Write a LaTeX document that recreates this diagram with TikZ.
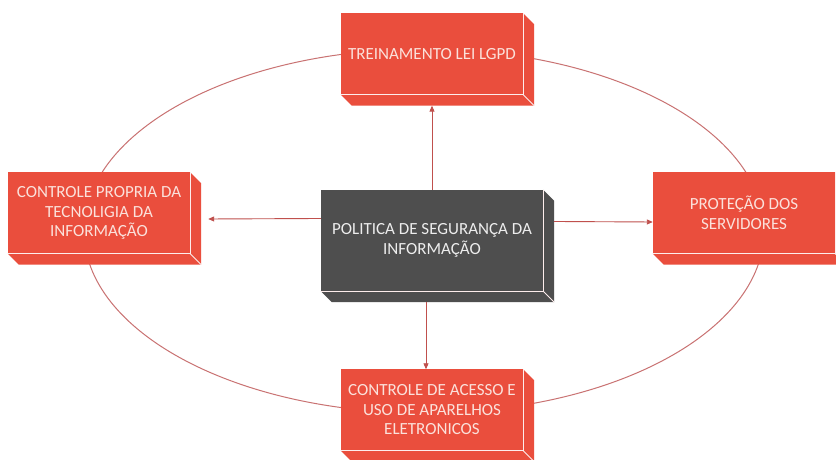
\documentclass[tikz,border=0pt]{standalone}
\usepackage{fontspec}
\setmainfont{Carlito}
\usetikzlibrary{arrows.meta}
\definecolor{boxred}{HTML}{EA4E3D}
\definecolor{boxdark}{HTML}{4E4E4E}
\definecolor{ringcol}{HTML}{C97272}
\definecolor{arrcol}{HTML}{C0504D}
\definecolor{txtred}{HTML}{FBE1DB}
\tikzset{
  redbox/.style={fill=boxred, text=txtred, minimum width=182pt, minimum height=81pt, inner sep=0pt, align=center, font=\fontsize{17}{19.5}\selectfont},
  darkbox/.style={fill=boxdark, text=white!93!black, minimum width=222pt, minimum height=101pt, inner sep=0pt, align=center, font=\fontsize{17}{19.5}\selectfont},
  sep/.style={draw=white!90!boxred, line width=0.8pt},
  arr/.style={draw=arrcol, line width=0.9pt, -{Triangle[length=6pt,width=5pt]}},
  ring/.style={draw=ringcol, line width=1pt}
}
\newcommand{\extrude}[2]{%
  \fill[#2] (#1.north east) -- ++(11,-11) -- ([shift={(11,-11)}]#1.south east) -- ([shift={(11,-11)}]#1.south west) -- (#1.south west) -- (#1.south east) -- cycle;
  \draw[sep] (#1.south west) -- (#1.south east) -- (#1.north east);
  \draw[sep] (#1.south east) -- ++(11,-11);
}
\begin{document}
\begin{tikzpicture}[x=1pt,y=1pt]
\useasboundingbox (0,0) rectangle (836,460);
\clip (0,0) rectangle (836,460);
\fill[white] (0,0) rectangle (836,460);
\draw[ring] (424,229) ellipse [x radius=340, y radius=182];
\node[redbox] (top) at (432,406) {TREINAMENTO LEI LGPD};
\extrude{top}{boxred}
\node[redbox] (left) at (99,247) {CONTROLE PROPRIA DA\\TECNOLIGIA DA\\INFORMAÇÃO};
\extrude{left}{boxred}
\node[redbox] (right) at (744,247) {PROTEÇÃO DOS\\SERVIDORES};
\extrude{right}{boxred}
\node[redbox] (bot) at (432,50) {CONTROLE DE ACESSO E\\USO DE APARELHOS\\ELETRONICOS};
\extrude{bot}{boxred}
\node[darkbox] (mid) at (432,219.5) {POLITICA DE SEGURANÇA DA\\INFORMAÇÃO};
\extrude{mid}{boxdark}
\draw[arr] (mid.north) -- ([yshift=-11pt]top.south);
\draw[arr] ([xshift=-6pt,yshift=-11pt]mid.south) -- ([xshift=-6pt]bot.north);
\draw[arr] ([yshift=22pt]mid.west) -- ([xshift=18pt,yshift=-6pt]left.east);
\draw[arr] ([xshift=11pt,yshift=19pt]mid.east) -- ([yshift=-9pt]right.west);
\end{tikzpicture}
\end{document}
